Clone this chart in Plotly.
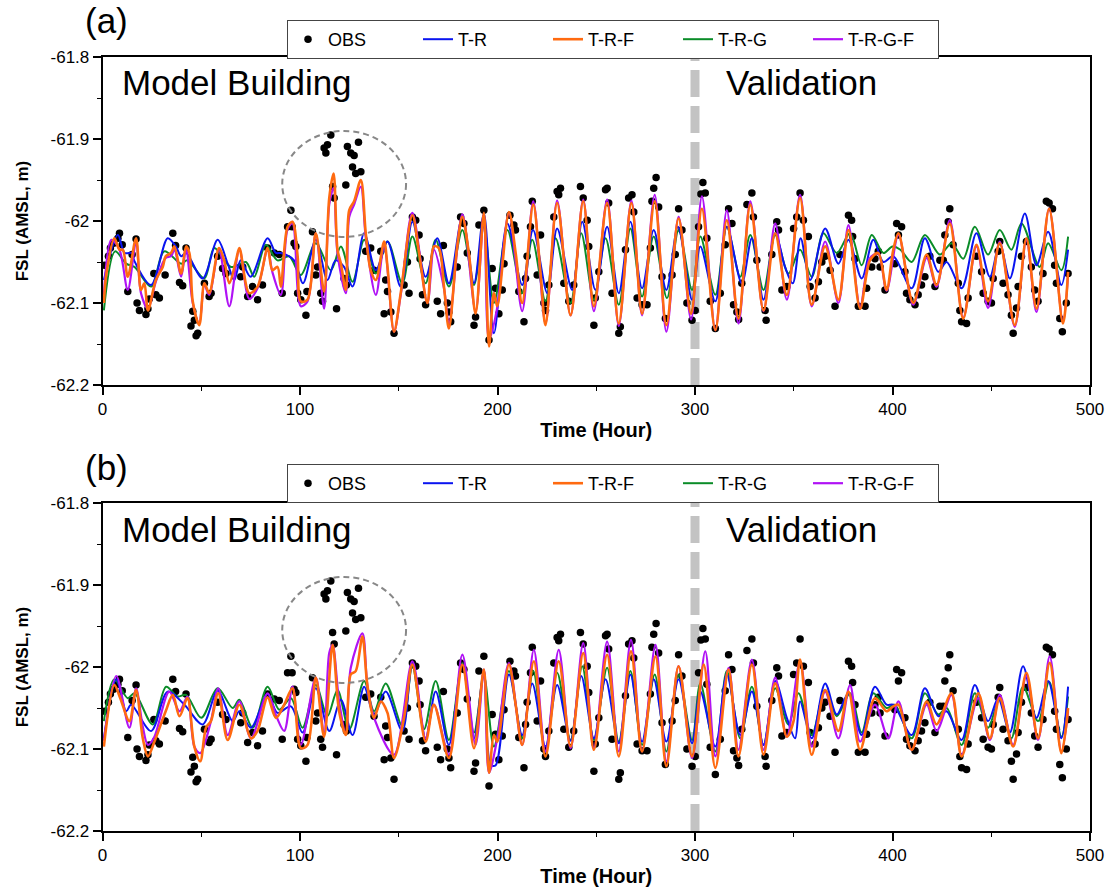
import plotly.graph_objects as go

# ---------------- data ----------------
X_TICKS = [0, 100, 200, 300, 400, 500]
X_TICK_LABELS = ["0", "100", "200", "300", "400", "500"]
Y_TICKS = [-61.8, -61.9, -62.0, -62.1, -62.2]
Y_TICK_LABELS = ["-61.8", "-61.9", "-62", "-62.1", "-62.2"]
SPLIT_HOUR = 300
PANEL_LABELS = ["(a)", "(b)"]
SERIES_NAMES = ["OBS", "T-R", "T-R-F", "T-R-G", "T-R-G-F"]

OBS = [
    (1, -62.054), (3, -62.043), (4, -62.033), (5.6, -62.027), (7.8, -62.021), (8.6, -62.015),
    (10, -62.029), (12.8, -62.086), (15, -62.041), (17, -62.022), (17.5, -62.100), (18.7, -62.109),
    (22, -62.114), (23, -62.107), (23.7, -62.095), (26, -62.064), (27, -62.090), (28.8, -62.094),
    (31.7, -62.066), (35.6, -62.015), (37, -62.030), (39, -62.075), (40.6, -62.079), (42.3, -62.033),
    (44.8, -62.128), (45.7, -62.110), (46.5, -62.121), (47.4, -62.140), (48.2, -62.137), (51.6, -62.076),
    (54, -62.092), (55, -62.088), (58.3, -62.043), (60.8, -62.058), (62.5, -62.064), (70, -62.068),
    (71, -62.056), (73.5, -62.092), (76, -62.080), (78.5, -62.096), (81, -62.078), (83.6, -62.033),
    (87, -62.039), (89.5, -62.041), (91, -62.088), (93.7, -62.007), (95.4, -61.987), (96, -62.007),
    (97, -62.027), (97.9, -62.031), (98.8, -62.088), (100.4, -62.096), (103, -62.115), (103.5, -62.086),
    (106.3, -62.013), (108, -62.066), (108.9, -62.056), (110.5, -62.088), (111.4, -62.098),
    (112.2, -61.911), (113.1, -61.917), (113.9, -61.907), (115.6, -61.895), (116.5, -61.958),
    (117.3, -61.972), (118.5, -62.107), (122.3, -62.070), (123.2, -61.956), (123.5, -62.078),
    (124, -61.909), (125.7, -61.917), (126.6, -61.934), (127.4, -61.920), (128.2, -61.942),
    (129.6, -61.904), (130.8, -61.940), (133.3, -62.037), (135.8, -62.033), (137.5, -62.060),
    (140.9, -62.037), (142.6, -62.113), (143.4, -62.072), (144.3, -62.086), (146, -62.111),
    (147.6, -62.137), (152.7, -62.078), (154.4, -62.050), (155.2, -62.088), (156.9, -61.995),
    (158.6, -61.999), (160.3, -62.017), (160.8, -62.046), (162, -62.090), (163.6, -62.102),
    (169.5, -62.098), (171.2, -62.113), (172.6, -62.030), (174.6, -62.100), (175.4, -62.111),
    (176.3, -62.123), (179.6, -62.056), (181.3, -61.995), (183, -62.003), (184.7, -62.039),
    (188.1, -62.127), (188.9, -62.117), (190.6, -62.005), (193.1, -61.987), (195.7, -62.145),
    (197.3, -62.058), (199, -62.082), (200.7, -62.113), (202.4, -62.084), (203.3, -62.052),
    (206.3, -61.993), (208.3, -62.005), (209.1, -62.011), (210.8, -62.086), (213.4, -62.123),
    (214.2, -62.070), (215, -62.043), (216.7, -62.007), (217.6, -61.976), (220.1, -62.066),
    (221.8, -62.017), (223.5, -62.100), (224.3, -62.109), (226, -62.078), (228.5, -61.995),
    (230.2, -61.964), (231, -61.968), (231.9, -61.960), (233.6, -62.076), (236.1, -62.098),
    (238.6, -62.078), (242, -61.958), (243.4, -61.972), (245.4, -61.999), (246.2, -62.031),
    (248.8, -62.127), (249.5, -62.094), (251.3, -62.062), (254.7, -61.962), (255.5, -61.960),
    (256.3, -61.978), (258, -62.088), (261.4, -62.137), (262.2, -62.129), (264.8, -62.035),
    (266.4, -61.972), (268.1, -61.968), (269, -61.989), (270.7, -62.094), (273.2, -62.102),
    (275.7, -62.102), (277.4, -62.033), (278.2, -61.976), (279.1, -61.960), (280.3, -61.947),
    (281.6, -61.983), (283.3, -62.068), (285, -62.119), (288.4, -62.066), (290, -62.041),
    (291.7, -61.985), (293.4, -62.011), (295.9, -62.100), (298.5, -62.121), (300.1, -62.109),
    (301.8, -62.007), (303, -61.967), (304, -61.953), (305.2, -61.966), (306, -62.021),
    (307.7, -62.098), (310.3, -62.131), (312.8, -62.088), (315.3, -62.029), (317, -61.985),
    (318.7, -62.003), (319.5, -62.102), (321.2, -62.111), (322.1, -62.120), (323.7, -62.076),
    (326.3, -61.980), (328.8, -61.966), (329.6, -61.995), (331.3, -62.048), (335.5, -62.109),
    (336, -62.121), (338.9, -62.041), (341.4, -62.001), (342.3, -62.011), (344, -62.084),
    (346.5, -62.080), (349.9, -62.009), (351.5, -61.995), (353.2, -61.966), (354.9, -61.999),
    (357.4, -62.019), (358.3, -62.080), (360.8, -62.094), (362.5, -62.074), (364.2, -62.050),
    (365.9, -62.043), (368.4, -62.060), (370.9, -62.104), (373.4, -62.041), (377.7, -61.993),
    (379.3, -61.999), (379.8, -62.019), (381, -62.046), (382.7, -62.104), (386.1, -62.104),
    (386.9, -62.082), (389.5, -62.056), (391.1, -62.046), (392.8, -62.037), (393.7, -62.056),
    (396.2, -62.084), (401.2, -62.052), (402.1, -62.003), (403, -62.017), (404.6, -62.007),
    (406.3, -62.062), (407.1, -62.088), (408.8, -62.096), (411.4, -62.102), (413, -62.090),
    (414.7, -62.078), (416.4, -62.068), (418.9, -62.043), (421.5, -62.080), (424, -62.048),
    (425.7, -62.048), (426.5, -62.017), (428.2, -62.001), (429, -61.985), (430.7, -62.029),
    (433.3, -62.076), (434.1, -62.109), (435, -62.123), (437.5, -62.125), (438.3, -62.094),
    (442.5, -62.043), (445.1, -62.062), (445.9, -62.088), (448.4, -62.098), (450.1, -62.100),
    (451, -62.070), (453.5, -62.037), (454.3, -62.025), (456, -62.076), (458.5, -62.090),
    (460.2, -62.115), (461.1, -62.137), (462.8, -62.106), (463.6, -62.080), (465.3, -62.043),
    (467.8, -62.025), (470.3, -62.056), (472, -62.084), (473.7, -62.098), (476.2, -62.064),
    (477.9, -61.976), (479.3, -61.978), (481, -61.985), (482.1, -62.054), (483, -62.076),
    (484.7, -62.119), (486, -62.135), (488, -62.100), (488.9, -62.064),
]

# ---- panel (a) model series ----
TR_A = [
    (0.7, -62.072), (7.8, -62.017), (11.2, -62.039), (15, -62.039), (16, -62.048), (24.6, -62.078),
    (33, -62.021), (37.1, -62.031), (39.8, -62.043), (42.3, -62.039), (50.7, -62.070), (58.3, -62.023),
    (63.4, -62.052), (66.7, -62.072), (70, -62.048), (75, -62.068), (83.6, -62.021), (87.8, -62.039),
    (90.3, -62.039), (97, -62.048), (101.5, -62.076), (108, -62.023), (113.9, -62.072), (118, -62.048),
    (122.3, -62.056), (126.6, -62.080), (132.5, -62.015), (138.4, -62.060), (144.3, -62.025),
    (151, -62.080), (156.9, -62.001), (163.6, -62.068), (169.5, -62.021), (175.4, -62.076),
    (182.2, -61.995), (188.1, -62.076), (193.1, -61.991), (198.2, -62.137), (205, -62.003),
    (212.5, -62.078), (218, -62.011), (225.2, -62.088), (230.2, -62.009), (237.8, -62.084),
    (242.9, -62.001), (249.6, -62.084), (255.5, -62.007), (261.4, -62.088), (267.3, -62.001),
    (273.2, -62.082), (279.1, -62.011), (285.5, -62.084), (291.4, -62.007), (298.5, -62.096),
    (302.7, -62.031), (310.3, -62.098), (316.1, -62.007), (323.7, -62.076), (328.8, -62.021),
    (334.7, -62.096), (340.6, -62.015), (345.6, -62.056), (349.5, -62.076), (353.5, -62.021),
    (358.3, -62.072), (365.9, -62.009), (372.6, -62.052), (377.7, -62.023), (384.4, -62.070),
    (390.3, -62.023), (395.4, -62.050), (400.4, -62.043), (409.7, -62.082), (416.4, -62.021),
    (423.2, -62.062), (427.4, -62.050), (435, -62.082), (442.5, -62.015), (449.3, -62.068),
    (454.3, -62.027), (459.4, -62.070), (467, -61.991), (472.9, -62.054), (478.8, -62.013),
    (485.5, -62.078), (488.9, -62.035),
]
TRF_A = [
    (0.7, -62.100), (2, -62.064), (6, -62.021), (8.6, -62.035), (10.3, -62.035), (12.8, -62.068),
    (17, -62.021), (19.5, -62.084), (21.2, -62.076), (23, -62.109), (27, -62.072), (30.5, -62.056),
    (32, -62.043), (34.7, -62.039), (36.4, -62.031), (39.8, -62.064), (42.3, -62.031), (44, -62.039),
    (45.7, -62.098), (49, -62.127), (51.6, -62.076), (54, -62.088), (59, -62.033), (61.6, -62.048),
    (64.2, -62.076), (67.6, -62.048), (69.3, -62.033), (74.3, -62.088), (78.5, -62.080),
    (83.6, -62.033), (86, -62.060), (88.6, -62.056), (90.3, -62.080), (93.7, -62.007),
    (96.2, -62.001), (98.8, -62.043), (100.4, -62.098), (103.8, -62.096), (108, -62.015),
    (112.2, -62.086), (114.8, -61.972), (117, -61.942), (119, -62.035), (120.7, -62.052),
    (123.2, -62.084), (124.9, -61.987), (127.4, -61.976), (130.8, -61.950), (133.3, -62.015),
    (135.8, -62.060), (138.4, -62.072), (142.6, -62.025), (144.3, -62.056), (147.6, -62.135),
    (151, -62.088), (156.9, -61.993), (160.3, -62.039), (164.5, -62.100), (167.8, -62.031),
    (170.3, -62.033), (172.9, -62.080), (175.4, -62.131), (179.6, -62.031), (182.2, -61.995),
    (185.5, -62.039), (188.9, -62.113), (193.1, -61.990), (195.7, -62.153), (198.2, -62.088),
    (199.9, -62.104), (205.8, -61.989), (209.2, -62.039), (212.5, -62.100), (218.1, -61.980),
    (221.8, -62.064), (224.3, -62.127), (230.2, -61.978), (237, -62.115), (243.4, -61.976),
    (248.8, -62.104), (255.5, -61.978), (261.4, -62.125), (267.8, -61.978), (273.2, -62.113),
    (279.6, -61.976), (285.5, -62.127), (291.7, -61.997), (298, -62.113), (303.5, -61.985),
    (310.3, -62.133), (316.1, -61.999), (322, -62.119), (328, -61.980), (334.7, -62.109),
    (340.6, -62.015), (346.5, -62.090), (353.2, -61.972), (359.1, -62.102), (365.9, -62.031),
    (372.6, -62.096), (377.7, -62.011), (383.6, -62.107), (388.6, -62.048), (392.8, -62.039),
    (397, -62.084), (400.4, -62.035), (403, -62.015), (410.5, -62.100), (417.3, -62.041),
    (422.3, -62.078), (429, -62.003), (435.8, -62.119), (442.5, -62.029), (448.4, -62.098),
    (454.3, -62.027), (461.9, -62.127), (467.8, -62.021), (472.9, -62.107), (479.3, -61.985),
    (486.3, -62.125), (488.9, -62.062),
]
TRG_A = [
    (0.7, -62.109), (6.4, -62.037), (12, -62.052), (16.2, -62.056), (24.6, -62.080), (31.3, -62.037),
    (39.8, -62.052), (43, -62.048), (51.6, -62.070), (56.6, -62.033), (65, -62.056), (72.6, -62.050),
    (76.8, -62.068), (82.7, -62.029), (88.6, -62.048), (94.5, -62.043), (100.4, -62.066),
    (108, -62.027), (115.6, -62.060), (120.7, -62.031), (126.6, -62.074), (132.5, -62.023),
    (138.4, -62.064), (144.3, -62.025), (151.8, -62.076), (156.9, -62.019), (163.6, -62.076),
    (168.7, -62.023), (175.4, -62.080), (182.2, -62.011), (188.1, -62.078), (193.1, -62.007),
    (198.2, -62.100), (205, -62.011), (212.5, -62.088), (217.6, -62.023), (224.3, -62.098),
    (229.4, -62.021), (237, -62.100), (242.4, -62.015), (248.8, -62.096), (254.7, -62.021),
    (261.4, -62.102), (267.3, -62.009), (273.2, -62.092), (279.1, -62.019), (285.8, -62.094),
    (291.7, -62.011), (298.5, -62.084), (302.7, -62.019), (310.3, -62.090), (316.1, -62.007),
    (322.9, -62.068), (328, -62.017), (334.7, -62.084), (340.6, -62.017), (347.3, -62.064),
    (353.2, -62.035), (359.1, -62.068), (365, -62.015), (371.8, -62.039), (378.5, -62.015),
    (384.4, -62.054), (389.5, -62.017), (395.4, -62.039), (400, -62.031), (404, -62.035),
    (409.7, -62.050), (416.4, -62.017), (424, -62.041), (429.9, -62.027), (435.8, -62.046),
    (441.7, -62.007), (448.4, -62.041), (454.3, -62.011), (460.2, -62.035), (465.3, -62.003),
    (474.5, -62.056), (478.8, -62.027), (485.5, -62.060), (488.9, -62.019),
]
TRGF_A = [
    (0.7, -62.090), (4.5, -62.023), (8.6, -62.035), (12.8, -62.084), (17, -62.025), (19.5, -62.088),
    (23, -62.107), (27, -62.074), (32, -62.045), (34.7, -62.043), (36.4, -62.035), (39.8, -62.068),
    (42.3, -62.035), (45.7, -62.100), (49, -62.125), (51.6, -62.078), (54, -62.090), (59, -62.035),
    (64.2, -62.104), (69.3, -62.035), (74.3, -62.095), (78.5, -62.082), (83.6, -62.035),
    (86, -62.062), (90.3, -62.090), (93.7, -62.010), (96.2, -62.003), (100.4, -62.104),
    (103.8, -62.098), (108, -62.015), (112.2, -62.107), (114.8, -61.980), (117, -61.960),
    (119, -62.040), (123.2, -62.088), (124.9, -61.995), (127.4, -61.980), (130.8, -61.958),
    (133.3, -62.020), (138.4, -62.090), (142.6, -62.030), (147.6, -62.135), (151, -62.090),
    (156.9, -61.990), (164.5, -62.100), (167.8, -62.035), (172.9, -62.082), (175.4, -62.125),
    (182.2, -61.992), (188.9, -62.110), (193.1, -61.992), (195.7, -62.145), (199.9, -62.105),
    (205.8, -61.990), (212.5, -62.110), (218.1, -61.976), (224.3, -62.125), (230.2, -61.975),
    (237, -62.115), (243.4, -61.974), (248.8, -62.110), (255.5, -61.974), (261.4, -62.128),
    (267.8, -61.975), (273.2, -62.115), (279.6, -61.968), (285.5, -62.135), (291.7, -61.995),
    (298, -62.120), (303.5, -61.970), (310.3, -62.133), (316.1, -61.987), (322, -62.125),
    (328, -61.976), (334.7, -62.110), (340.6, -62.003), (346.5, -62.096), (353.2, -61.968),
    (359.1, -62.104), (365.9, -62.025), (372.6, -62.100), (377.7, -62.005), (383.6, -62.105),
    (388.6, -62.045), (392.8, -62.040), (397, -62.085), (403, -62.017), (410.5, -62.102),
    (417.3, -62.045), (422.3, -62.080), (429, -61.999), (435.8, -62.118), (442.5, -62.031),
    (448.4, -62.106), (454.3, -62.025), (461.9, -62.129), (467.8, -62.023), (472.9, -62.111),
    (479.3, -61.985), (486.3, -62.123), (488.9, -62.065),
]

# ---- panel (b) model series ----
TR_B = [
    (0.7, -62.087), (7, -62.015), (12, -62.054), (14.5, -62.046), (24.6, -62.078), (33, -62.030),
    (41.5, -62.046), (50.7, -62.070), (58.3, -62.029), (65.9, -62.066), (69.3, -62.054),
    (75.2, -62.074), (83.6, -62.033), (88.6, -62.056), (95.4, -62.048), (101.3, -62.080),
    (108, -62.026), (114.8, -62.078), (120.7, -62.040), (126.6, -62.083), (132.5, -62.024),
    (137.5, -62.058), (143.4, -62.030), (151.8, -62.078), (156.9, -61.995), (163.6, -62.087),
    (168.7, -62.030), (175.4, -62.095), (182.2, -61.997), (188.1, -62.087), (193.1, -62.005),
    (196.5, -62.119), (199, -62.120), (205.8, -62.009), (212.5, -62.083), (217.6, -62.020),
    (224.3, -62.097), (230.2, -62.022), (237, -62.090), (242.4, -62.011), (248.8, -62.087),
    (254.7, -62.015), (261.4, -62.093), (267.3, -62.009), (273.2, -62.091), (279.1, -62.015),
    (285.5, -62.091), (291.7, -62.015), (298.5, -62.093), (302.7, -62.030), (310.3, -62.097),
    (316.1, -62.009), (322.9, -62.083), (328.8, -62.030), (334.7, -62.095), (340.6, -62.017),
    (346.5, -62.062), (350.7, -62.087), (353.2, -62.042), (359.1, -62.087), (365.9, -62.020),
    (371.8, -62.058), (377.7, -62.032), (384.4, -62.083), (391.1, -62.024), (397, -62.046),
    (400.4, -62.046), (409.7, -62.083), (416.4, -62.026), (423.2, -62.060), (427.4, -62.054),
    (435, -62.089), (441.7, -62.022), (448.4, -62.066), (453.5, -62.038), (459.4, -62.080),
    (466.1, -61.999), (472.9, -62.062), (478.8, -62.017), (485.5, -62.087), (488.9, -62.024),
]
TRF_B = [
    (0.7, -62.097), (6, -62.022), (9, -62.038), (13.6, -62.066), (17, -62.028), (20.4, -62.087),
    (23, -62.109), (26.3, -62.091), (32, -62.054), (35.6, -62.034), (39, -62.060), (43, -62.038),
    (46.5, -62.097), (49.5, -62.115), (52.4, -62.074), (54.9, -62.066), (58.6, -62.032),
    (63.4, -62.089), (69.3, -62.046), (75.2, -62.087), (78.5, -62.078), (83.6, -62.037),
    (87.8, -62.062), (92, -62.046), (96.2, -62.026), (100.4, -62.099), (103.8, -62.095),
    (108, -62.013), (112.2, -62.085), (116.5, -61.973), (119.8, -62.054), (123.2, -62.083),
    (125.7, -62.009), (128.2, -62.005), (131.6, -61.963), (134.1, -62.022), (137.5, -62.062),
    (140.9, -62.042), (144.3, -62.056), (147.6, -62.111), (152.7, -62.062), (156.9, -61.997),
    (163.6, -62.091), (167.8, -62.046), (175.4, -62.111), (182.2, -61.997), (188.1, -62.099),
    (193.1, -62.003), (195.7, -62.129), (198.2, -62.083), (199.9, -62.091), (205.8, -61.997),
    (209.2, -62.046), (212.5, -62.095), (218.4, -61.993), (224.3, -62.109), (231, -61.993),
    (237, -62.097), (243.4, -61.983), (248.8, -62.101), (255.5, -61.985), (261.4, -62.109),
    (267.6, -61.981), (273.2, -62.103), (280, -61.987), (285.5, -62.121), (291.7, -61.999),
    (298.5, -62.109), (304.4, -61.997), (310.3, -62.123), (317, -62.003), (322, -62.109),
    (328.8, -61.997), (334.7, -62.107), (340.6, -62.020), (346.5, -62.085), (349.9, -62.066),
    (353.2, -61.991), (359.1, -62.107), (365.9, -62.028), (372.6, -62.078), (377.7, -62.030),
    (383.6, -62.101), (391.1, -62.038), (397, -62.054), (400.4, -62.048), (403, -62.046),
    (409.7, -62.101), (417.3, -62.042), (422.3, -62.070), (429.9, -62.032), (435, -62.109),
    (443.4, -62.032), (449.3, -62.087), (454.3, -62.038), (461.1, -62.097), (467.8, -62.007),
    (473.7, -62.087), (479.6, -61.995), (485.5, -62.105), (488.9, -62.050),
]
TRG_B = [
    (0.7, -62.066), (6, -62.015), (12.8, -62.038), (16.2, -62.032), (25.4, -62.070), (32.2, -62.024),
    (38, -62.036), (42.3, -62.034), (50, -62.062), (58.3, -62.026), (65.9, -62.050), (69.3, -62.040),
    (76, -62.074), (83.6, -62.024), (89.5, -62.052), (95.4, -62.038), (101.3, -62.074),
    (108, -62.022), (113.9, -62.060), (119, -62.028), (124.9, -62.076), (132.5, -62.017),
    (137.5, -62.054), (143.4, -62.020), (151.8, -62.072), (156.9, -61.999), (162.8, -62.076),
    (168.7, -62.017), (175.4, -62.089), (182.2, -61.995), (188.1, -62.080), (193.1, -62.011),
    (198.2, -62.097), (205.8, -62.005), (212.5, -62.087), (218.1, -62.005), (224.3, -62.103),
    (230.2, -62.007), (237, -62.089), (242.9, -61.999), (248.8, -62.089), (255.5, -62.001),
    (261.4, -62.091), (267.3, -62.005), (273.2, -62.095), (279.6, -62.009), (285.5, -62.103),
    (291.7, -62.009), (298.5, -62.089), (302.7, -62.020), (310.3, -62.103), (316.1, -62.005),
    (322.9, -62.087), (328.8, -62.024), (334.7, -62.095), (340.6, -62.026), (347.3, -62.070),
    (352.4, -62.032), (359.1, -62.083), (365.9, -62.028), (371.8, -62.060), (378.5, -62.032),
    (384.4, -62.080), (390.3, -62.032), (397, -62.050), (401, -62.046), (409.7, -62.087),
    (416.4, -62.032), (423.2, -62.058), (427.4, -62.050), (435, -62.095), (441.7, -62.032),
    (448.4, -62.074), (454.3, -62.038), (460.2, -62.087), (466.1, -62.024), (473.7, -62.066),
    (479.3, -62.018), (485.5, -62.085), (488.9, -62.036),
]
TRGF_B = [
    (0.7, -62.090), (7, -62.011), (13.6, -62.074), (17, -62.026), (20.4, -62.073), (23, -62.095),
    (26.3, -62.085), (33.8, -62.030), (39, -62.054), (43, -62.036), (46.5, -62.097), (49.5, -62.105),
    (54.9, -62.066), (58.6, -62.026), (63.4, -62.083), (69.3, -62.042), (75.2, -62.087),
    (83.6, -62.032), (88, -62.060), (92, -62.078), (96.2, -62.024), (100.4, -62.095),
    (108, -62.013), (112.2, -62.083), (114.8, -61.983), (116.5, -61.973), (119.8, -62.042),
    (123.2, -62.081), (125.7, -62.001), (131.6, -61.959), (134.1, -62.022), (137.5, -62.062),
    (147.6, -62.107), (156.9, -61.993), (163.6, -62.087), (167.8, -62.046), (175.4, -62.107),
    (182.2, -61.985), (188.9, -62.095), (193.1, -62.003), (195.7, -62.129), (199.9, -62.087),
    (205.8, -61.995), (212.5, -62.095), (218.4, -61.979), (224.3, -62.103), (231, -61.979),
    (237, -62.099), (243.4, -61.971), (248.8, -62.099), (255.5, -61.969), (261.4, -62.103),
    (267.6, -61.967), (273.2, -62.103), (280, -61.973), (285.5, -62.115), (291.7, -61.999),
    (298.5, -62.111), (305.2, -61.981), (310.3, -62.109), (317, -62.001), (322, -62.101),
    (328.8, -61.991), (334.7, -62.101), (340.6, -62.013), (346.5, -62.085), (353.2, -61.993),
    (359.1, -62.097), (365.9, -62.030), (372.6, -62.087), (378.5, -62.022), (383.6, -62.091),
    (391.1, -62.046), (397.9, -62.087), (403, -62.042), (409.7, -62.101), (417.3, -62.046),
    (422.3, -62.078), (429.9, -62.034), (435, -62.107), (443.4, -62.038), (449.3, -62.089),
    (454.3, -62.034), (461.1, -62.095), (467.8, -62.011), (473.7, -62.089), (479.6, -61.987),
    (485.5, -62.103), (488.9, -62.054),
]

# highlighted anomaly (hours, metres) enclosed by the dashed ellipse
ANOMALY_HOURS = (91.0, 153.7)
ANOMALY_FSL = (-62.0195, -61.8902)

# ---------------- styling ----------------
FONT = "Arial, 'Liberation Sans', Helvetica, sans-serif"
COLORS = {"T-R": "#0a14f0", "T-R-F": "#ff6a10", "T-R-G": "#0a8c28", "T-R-G-F": "#b012f5"}
WIDTHS = {"T-R": 2.0, "T-R-F": 2.6, "T-R-G": 2.0, "T-R-G-F": 2.2}
RANKS = {"OBS": 1, "T-R": 2, "T-R-F": 3, "T-R-G": 4, "T-R-G-F": 5}

XDOM = [102.5 / 1110, 1090 / 1110]
YDOM_A = [1 - 385 / 889, 1 - 57 / 889]
YDOM_B = [1 - 831 / 889, 1 - 503 / 889]

fig = go.Figure()

panels = [
    ("x", "y", "legend", {"T-R": TR_A, "T-R-F": TRF_A, "T-R-G": TRG_A, "T-R-G-F": TRGF_A}),
    ("x2", "y2", "legend2", {"T-R": TR_B, "T-R-F": TRF_B, "T-R-G": TRG_B, "T-R-G-F": TRGF_B}),
]

for xa, ya, lg, series in panels:
    fig.add_trace(go.Scatter(
        x=[p[0] for p in OBS], y=[p[1] for p in OBS], mode="markers", name="OBS",
        marker=dict(color="black", size=7.5), xaxis=xa, yaxis=ya, legend=lg, legendrank=RANKS["OBS"],
    ))
    for name in ["T-R-G", "T-R", "T-R-G-F", "T-R-F"]:
        pts = series[name]
        fig.add_trace(go.Scatter(
            x=[p[0] for p in pts], y=[p[1] for p in pts], mode="lines", name=name,
            line=dict(color=COLORS[name], width=WIDTHS[name], shape="spline", smoothing=0.9),
            xaxis=xa, yaxis=ya, legend=lg, legendrank=RANKS[name],
        ))

axis_common = dict(
    showline=True, linecolor="black", linewidth=1.6, mirror=True, showgrid=False, zeroline=False,
    ticks="outside", ticklen=8, tickwidth=1.5, tickcolor="black", automargin=False,
    tickfont=dict(family=FONT, size=17, color="black"),
)
xcommon = dict(axis_common, range=[0, 500], tickmode="array", tickvals=X_TICKS, ticktext=X_TICK_LABELS,
               minor=dict(dtick=50, tick0=0, ticks="outside", ticklen=4, tickwidth=1.2, tickcolor="black"),
               title=dict(text="<b>Time (Hour)</b>", font=dict(family=FONT, size=20, color="black"), standoff=5))
ycommon = dict(axis_common, range=[-62.2, -61.8], tickmode="array", tickvals=Y_TICKS, ticktext=Y_TICK_LABELS,
               minor=dict(dtick=0.05, tick0=-62.2, ticks="outside", ticklen=4, tickwidth=1.2, tickcolor="black"),
               title=dict(text="<b>FSL (AMSL, m)</b>", font=dict(family=FONT, size=17, color="black"), standoff=18))

legend_common = dict(
    orientation="h", xanchor="left", yanchor="top", bgcolor="white", bordercolor="#444", borderwidth=1,
    font=dict(family=FONT, size=18, color="black"), entrywidth=85, entrywidthmode="pixels",
    itemwidth=30, traceorder="normal",
)

fig.update_layout(
    width=1110, height=889, margin=dict(l=0, r=0, t=0, b=0, autoexpand=False),
    paper_bgcolor="white", plot_bgcolor="white", font=dict(family=FONT, color="black"),
    xaxis=dict(xcommon, domain=XDOM, anchor="y"),
    yaxis=dict(ycommon, domain=YDOM_A, anchor="x"),
    xaxis2=dict(xcommon, domain=XDOM, anchor="y2"),
    yaxis2=dict(ycommon, domain=YDOM_B, anchor="x2"),
    legend=dict(legend_common, x=287 / 1110, y=1 - 20 / 889),
    legend2=dict(legend_common, x=287 / 1110, y=1 - 464 / 889),
    showlegend=True,
)

shapes = []
annotations = []
for (xa, ya, _, _), plabel, ydom in zip(panels, PANEL_LABELS, [YDOM_A, YDOM_B]):
    shapes.append(dict(type="line", xref=xa, yref=f"{ya} domain", x0=SPLIT_HOUR, x1=SPLIT_HOUR, y0=0, y1=1,
                       line=dict(color="#c3c3c3", width=9, dash="27px,9px"), layer="below"))
    shapes.append(dict(type="circle", xref=xa, yref=ya, x0=ANOMALY_HOURS[0], x1=ANOMALY_HOURS[1],
                       y0=ANOMALY_FSL[0], y1=ANOMALY_FSL[1],
                       line=dict(color="#888888", width=2, dash="6px,4px")))
    top = ydom[1]
    annotations.append(dict(text=plabel, xref="paper", yref="paper", x=106 / 1110, y=top + 36 / 889,
                            xanchor="center", yanchor="middle", showarrow=False,
                            font=dict(family=FONT, size=35, color="black")))
    annotations.append(dict(text="Model Building", xref="paper", yref="paper", x=120 / 1110, y=top - 26 / 889,
                            xanchor="left", yanchor="middle", showarrow=False,
                            font=dict(family=FONT, size=35, color="black")))
    annotations.append(dict(text="Validation", xref="paper", yref="paper", x=724 / 1110, y=top - 26 / 889,
                            xanchor="left", yanchor="middle", showarrow=False,
                            font=dict(family=FONT, size=35, color="black")))

fig.update_layout(shapes=shapes, annotations=annotations)
fig.write_html("out.html")
